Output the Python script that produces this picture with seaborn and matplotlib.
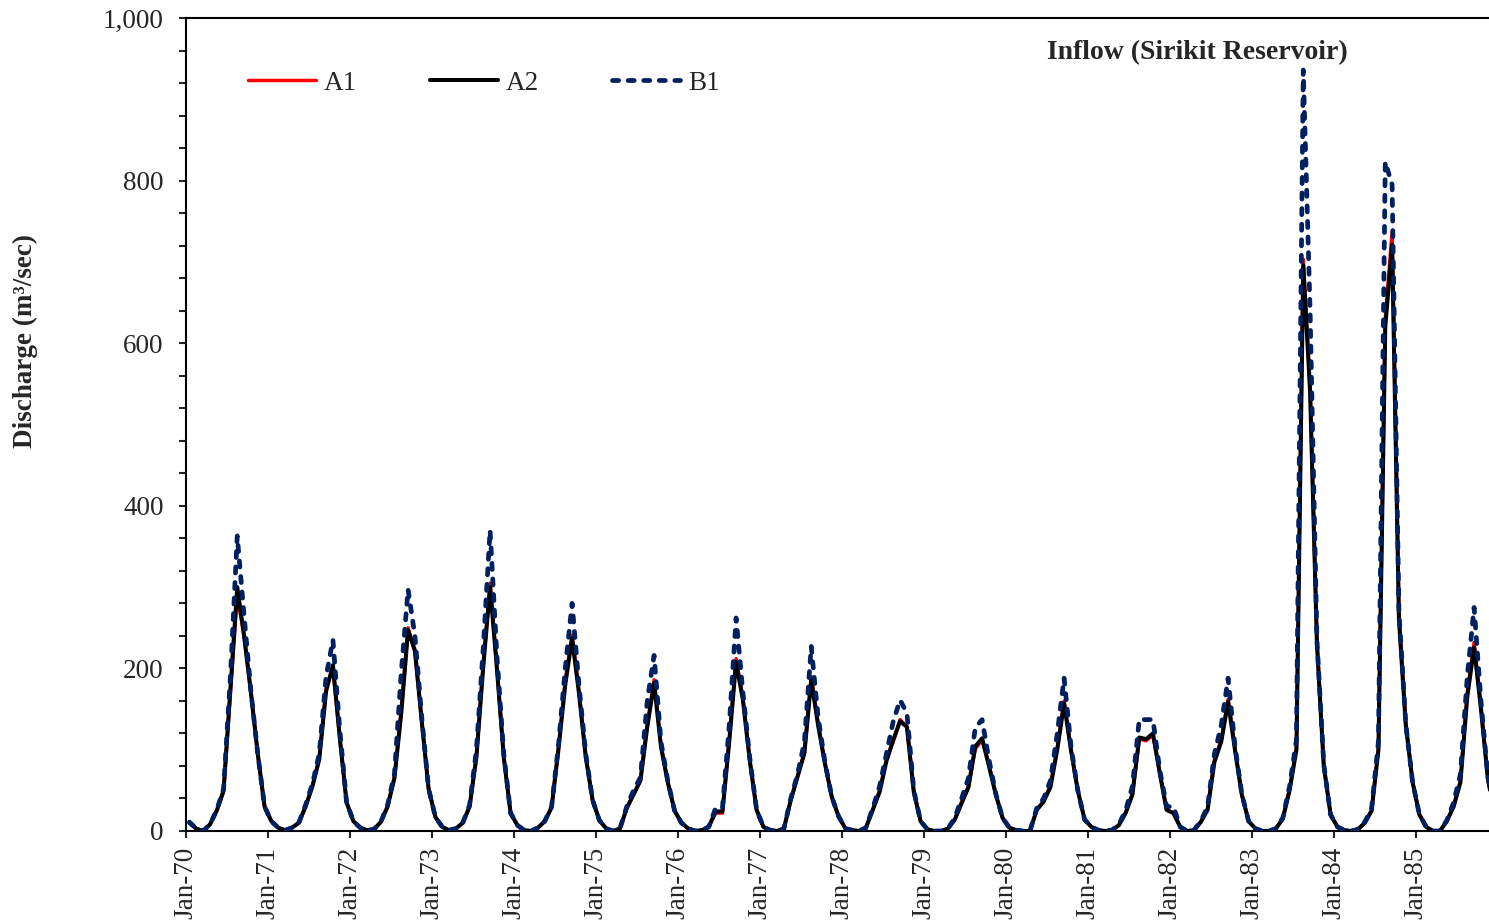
import numpy as np
import pandas as pd
import matplotlib
matplotlib.use("Agg")
import matplotlib.pyplot as plt
from matplotlib.ticker import MultipleLocator, FuncFormatter
import seaborn as sns

# Monthly inflow, Jan-1970 .. Dec-1985 (one row per year)
a1 = [
    10, 3, 0, 8, 25, 48, 170, 290, 240, 172, 95, 30,
    12, 4, 1, 4, 10, 30, 55, 90, 175, 200, 115, 35,
    12, 4, 1, 2, 11, 30, 66, 148, 250, 220, 135, 52,
    17, 5, 1, 3, 10, 30, 92, 205, 305, 200, 90, 22,
    7, 1, 0, 4, 12, 29, 102, 185, 241, 172, 92, 38,
    13, 3, 0, 3, 28, 45, 62, 130, 186, 106, 60, 25,
    10, 3, 0, 1, 5, 22, 22, 112, 212, 163, 87, 26,
    5, 1, 0, 3, 38, 67, 96, 190, 132, 84, 42, 18,
    3, 1, 0, 4, 26, 50, 88, 110, 137, 128, 50, 12,
    2, 0, 0, 3, 14, 36, 54, 101, 112, 82, 45, 16,
    4, 1, 0, 0, 26, 37, 56, 102, 160, 100, 50, 14,
    5, 1, 0, 1, 7, 22, 45, 113, 111, 118, 72, 26,
    22, 5, 0, 1, 11, 28, 88, 112, 162, 102, 45, 12,
    3, 0, 0, 3, 15, 52, 102, 703, 545, 235, 82, 20,
    5, 1, 0, 2, 10, 25, 102, 630, 737, 270, 135, 60,
    20, 5, 0, 0, 12, 30, 62, 170, 232, 155, 66, 20,
]
a2 = [
    10, 3, 0, 8, 25, 50, 175, 300, 240, 170, 95, 30,
    12, 4, 1, 4, 10, 30, 55, 88, 172, 204, 115, 35,
    12, 4, 1, 2, 11, 30, 65, 145, 247, 222, 135, 52,
    17, 5, 1, 3, 10, 30, 91, 202, 300, 200, 91, 22,
    7, 1, 0, 4, 12, 29, 100, 180, 237, 170, 91, 38,
    13, 3, 0, 3, 28, 45, 62, 128, 182, 104, 60, 25,
    10, 3, 0, 1, 5, 24, 24, 110, 208, 161, 87, 26,
    5, 1, 0, 3, 38, 67, 96, 186, 130, 83, 42, 18,
    3, 1, 0, 4, 26, 48, 86, 112, 135, 128, 48, 12,
    2, 0, 0, 3, 14, 34, 54, 104, 114, 80, 45, 16,
    4, 1, 0, 0, 26, 36, 54, 100, 157, 100, 50, 14,
    5, 1, 0, 1, 7, 22, 45, 115, 113, 120, 71, 26,
    22, 5, 0, 1, 11, 26, 85, 110, 159, 100, 45, 12,
    3, 0, 0, 3, 15, 50, 100, 696, 540, 230, 80, 20,
    5, 1, 0, 2, 10, 25, 100, 620, 721, 260, 130, 60,
    20, 5, 0, 0, 12, 30, 60, 165, 226, 150, 65, 20,
]
b1 = [
    11, 3, 0, 8, 26, 52, 190, 363, 265, 172, 95, 30,
    12, 4, 1, 4, 10, 32, 58, 95, 190, 235, 125, 35,
    12, 4, 1, 2, 11, 32, 70, 195, 297, 240, 140, 52,
    17, 5, 1, 3, 10, 32, 100, 225, 370, 215, 95, 22,
    7, 1, 0, 4, 12, 30, 105, 200, 280, 180, 95, 38,
    13, 3, 0, 3, 30, 50, 66, 160, 216, 110, 62, 25,
    10, 3, 0, 1, 5, 28, 28, 130, 262, 170, 90, 26,
    5, 1, 0, 3, 40, 70, 110, 227, 140, 85, 42, 18,
    3, 1, 0, 4, 28, 55, 95, 135, 161, 145, 50, 12,
    2, 0, 0, 3, 16, 40, 65, 127, 137, 88, 46, 16,
    4, 1, 0, 0, 28, 40, 62, 120, 188, 105, 50, 14,
    5, 1, 0, 1, 8, 25, 55, 137, 137, 137, 75, 30,
    30, 5, 0, 1, 12, 30, 95, 130, 188, 105, 46, 12,
    3, 0, 0, 3, 16, 55, 112, 936, 640, 235, 82, 20,
    5, 1, 0, 2, 11, 28, 110, 823, 795, 270, 132, 60,
    20, 5, 0, 0, 13, 35, 70, 190, 275, 160, 68, 20,
]
tick_labels = ["Jan-70", "Jan-71", "Jan-72", "Jan-73", "Jan-74", "Jan-75",
               "Jan-76", "Jan-77", "Jan-78", "Jan-79", "Jan-80", "Jan-81",
               "Jan-82", "Jan-83", "Jan-84", "Jan-85"]

sns.set_style("ticks")
plt.rcParams["font.family"] = ["Liberation Serif", "DejaVu Serif"]

month = np.arange(len(a2))
df = pd.DataFrame({"month": month, "A1": a1, "A2": a2, "B1": b1})

fig = plt.figure(figsize=(14.89, 9.24), dpi=100)
ax = fig.add_axes([186 / 1489, 1 - 831 / 924, 1 - 186 / 1489, (831 - 18) / 924])

sns.lineplot(data=df, x="month", y="A1", ax=ax, color="#FF0000", lw=2.5,
             label="A1", zorder=2)
sns.lineplot(data=df, x="month", y="A2", ax=ax, color="#000000", lw=2.9,
             label="A2", zorder=3)
sns.lineplot(data=df, x="month", y="B1", ax=ax, color="#002060", lw=3.4,
             label="B1", zorder=4, linestyle=(0, (1.3, 2.0)),
             dash_capstyle="round")

ax.set_xlim(-0.5, 190.18)
ax.set_ylim(0, 1000)
ax.set_xticks(np.arange(len(tick_labels)) * 12 - 0.5)
ax.set_xticklabels(tick_labels, rotation=90, fontsize=19.5)
ax.yaxis.set_major_locator(MultipleLocator(200))
ax.yaxis.set_minor_locator(MultipleLocator(40))
ax.yaxis.set_major_formatter(FuncFormatter(lambda v, p: f"{int(v):,}"))
ax.tick_params(axis="y", which="both", length=5, width=1.5, direction="out",
               labelsize=19.5, pad=11)
ax.tick_params(axis="x", which="both", length=5, width=1.5, direction="out",
               pad=6)
ax.set_xlabel("")
ax.set_ylabel("")
for s in ["left", "bottom", "top"]:
    ax.spines[s].set_linewidth(1.5)
    ax.spines[s].set_color("black")
ax.spines["right"].set_visible(False)

ax.legend(loc="center left", bbox_to_anchor=(0.0476, 0.920), ncol=3,
          frameon=False, handlelength=2.5, handletextpad=0.3,
          columnspacing=2.7, borderpad=0, borderaxespad=0, fontsize=19.5)

ax.text(0.661, 0.957, "Inflow (Sirikit Reservoir)", transform=ax.transAxes,
        ha="left", va="center", fontsize=20, fontweight="bold")
fig.text(25 / 1489, 1 - 341 / 924, "Discharge (m\u00b3/sec)", rotation=90,
         ha="center", va="center", fontsize=19.5, fontweight="bold")

fig.savefig("out.png", dpi=100)
